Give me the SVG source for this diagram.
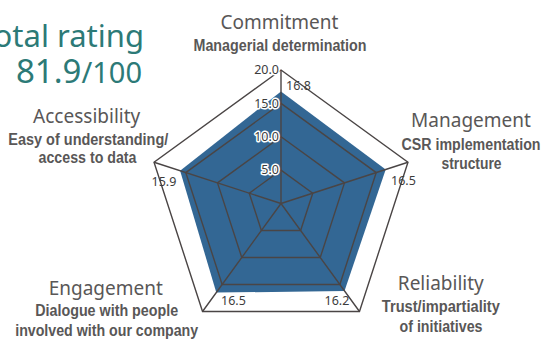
<svg xmlns="http://www.w3.org/2000/svg" width="543" height="340" viewBox="0 0 543 340">
<style>
.title{font-family:"Noto Sans","DejaVu Sans",sans-serif;fill:#2c7a77}
.cat{font-family:"Noto Sans","DejaVu Sans",sans-serif;font-size:19px;fill:#595757;text-anchor:middle}
.sub{font-family:"Liberation Sans Narrow","Liberation Sans",sans-serif;font-size:16px;font-weight:bold;fill:#595757;text-anchor:middle}
.grid{fill:none;stroke:#4a4545;stroke-width:1.4;stroke-linejoin:miter}
.val{font-family:"Noto Sans","DejaVu Sans",sans-serif;font-size:12.5px;fill:#3c3c3c}
.tick{font-family:"Noto Sans","DejaVu Sans",sans-serif;font-size:12.5px;fill:#3c3c3c;text-anchor:end;stroke:#fff;stroke-width:3;paint-order:stroke;stroke-linejoin:round}
</style>
<g id="title">
<text class="title" x="144" y="47" font-size="31" text-anchor="end">Total rating</text>
<text class="title" x="142" y="83" text-anchor="end"><tspan font-size="33">81.9</tspan><tspan font-size="29">/100</tspan></text>
</g>
<g id="data">
<polygon points="281,91.4 385.7,169.5 344.5,291.0 216.3,292.6 180.1,170.7" fill="#336794"/>
</g>
<g id="connectors">
<polygon class="grid" points="281,70 407.97,162.25 359.47,311.5 202.53,311.5 154.03,162.25"/>
<polygon class="grid" points="281,103.375 376.23,172.56 339.85,284.5 222.15,284.5 185.77,172.56"/>
<polygon class="grid" points="281,136.75 344.49,182.87 320.24,257.5 241.76,257.5 217.51,182.87"/>
<polygon class="grid" points="281,170.125 312.74,193.19 300.62,230.5 261.38,230.5 249.26,193.19"/>
<path class="grid" d="M281,203.5L281,70M281,203.5L407.97,162.25M281,203.5L359.47,311.5M281,203.5L202.53,311.5M281,203.5L154.03,162.25"/>
</g>
<g id="scale">
<text class="tick" x="279" y="74">20.0</text>
<text class="tick" x="279" y="107.5">15.0</text>
<text class="tick" x="279" y="141">10.0</text>
<text class="tick" x="279" y="174">5.0</text>
</g>
<g id="values">
<text class="val" x="286" y="90">16.8</text>
<text class="val" x="391" y="184.5">16.5</text>
<text class="val" x="151.5" y="186">15.9</text>
<text class="val" x="221" y="304.5">16.5</text>
<text class="val" x="324.5" y="304.5">16.2</text>
</g>
<g id="commitment">
<text class="cat" x="279.5" y="29">Commitment</text>
<text class="sub" x="280" y="50.5" textLength="173" lengthAdjust="spacingAndGlyphs">Managerial determination</text>
</g>
<g id="management">
<text class="cat" x="471" y="126.5">Management</text>
<text class="sub" x="471" y="149.5" textLength="139" lengthAdjust="spacingAndGlyphs">CSR implementation</text>
<text class="sub" x="471.5" y="169" textLength="60" lengthAdjust="spacingAndGlyphs">structure</text>
</g>
<g id="accessibility">
<text class="cat" x="86.7" y="123">Accessibility</text>
<text class="sub" x="88.3" y="145" textLength="160" lengthAdjust="spacingAndGlyphs">Easy of understanding/</text>
<text class="sub" x="87.5" y="162.5" textLength="98" lengthAdjust="spacingAndGlyphs">access to data</text>
</g>
<g id="engagement">
<text class="cat" x="105.8" y="294.5">Engagement</text>
<text class="sub" x="106.7" y="315.5" textLength="143" lengthAdjust="spacingAndGlyphs">Dialogue with people</text>
<text class="sub" x="106.7" y="335.5" textLength="183" lengthAdjust="spacingAndGlyphs">involved with our company</text>
</g>
<g id="reliability">
<text class="cat" x="440.8" y="289.5">Reliability</text>
<text class="sub" x="440.8" y="312" textLength="118" lengthAdjust="spacingAndGlyphs">Trust/impartiality</text>
<text class="sub" x="441" y="332" textLength="83" lengthAdjust="spacingAndGlyphs">of initiatives</text>
</g>
</svg>
